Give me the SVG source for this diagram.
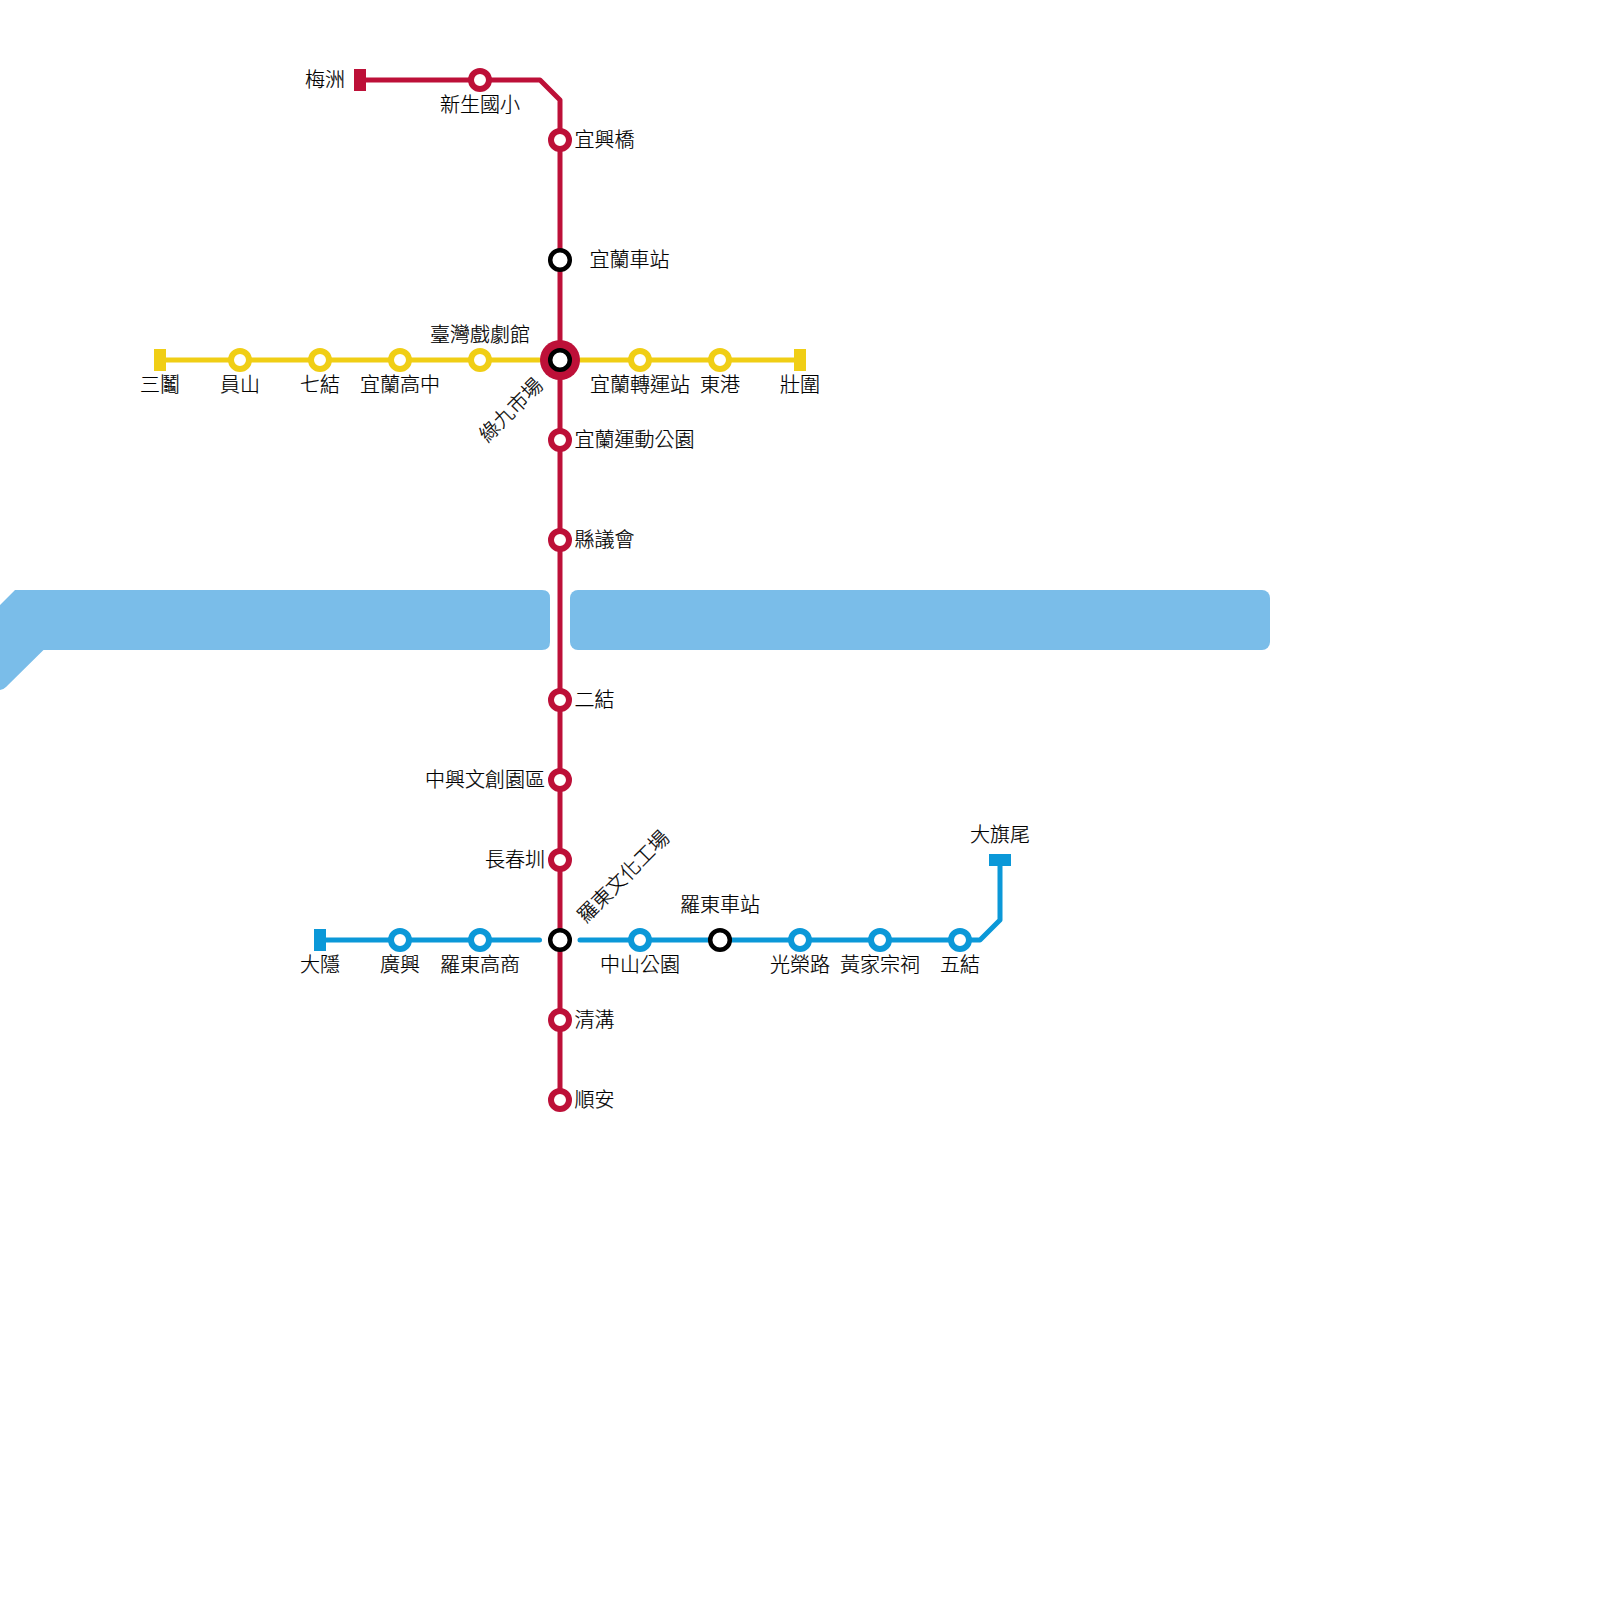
<svg xmlns="http://www.w3.org/2000/svg" width="1600" height="1600" viewBox="0 0 1600 1600">
<style>
text{font-family:"Noto Sans CJK TC","Noto Sans CJK JP",sans-serif;font-size:20px;font-weight:300;fill:#000;stroke:#000;stroke-width:.2;text-anchor:middle}
.s{text-anchor:start}.e{text-anchor:end}
.ln{fill:none;stroke-width:5;stroke-linejoin:round}
.r{stroke:#bd1038}.y{stroke:#f0ce15}.b{stroke:#0b98d8}
.st{fill:#fff;stroke-width:6}
.k{fill:#fff;stroke:#000;stroke-width:4.500}
.tr{fill:#bd1038}.ty{fill:#f0ce15}.tb{fill:#0b98d8}
.river{fill:#7abde9}
</style>
<defs>
<circle id="stn" r="9"/>
<circle id="xfer" r="9.800"/>
</defs>
<g id="river">
<path class="river" d="M0 605L15 590H542Q550 590 550 598V642Q550 650 542 650H43.500L6 687Q3 690 0 690Z"/>
<rect class="river" x="570" y="590" width="700" height="60" rx="8"/>
</g>
<g id="connectors">
<path class="ln r" d="M360 80H540L560 100V1100"/>
<path class="ln y" d="M160 360H539.500" stroke-linecap="round"/>
<path class="ln y" d="M580 360H800" stroke-linecap="round"/>
<path class="ln b" d="M320 940H539.500" stroke-linecap="round"/>
<path class="ln b" d="M580 940H980L1000 920V860" stroke-linecap="round"/>
</g>
<g id="n-meizhou"><rect class="tr" x="354" y="69" width="12" height="22"/><text class="e" x="345" y="86.500">梅洲</text></g>
<g id="n-xinsheng"><use href="#stn" class="st r" x="480" y="80"/><text x="480" y="112">新生國小</text></g>
<g id="n-yixingqiao"><use href="#stn" class="st r" x="560" y="140"/><text class="s" x="574.500" y="146.500">宜興橋</text></g>
<g id="n-yilan"><use href="#xfer" class="k" x="560" y="260"/><text class="s" x="589.500" y="266.500">宜蘭車站</text></g>
<g id="n-theatre"><circle class="tr" cx="560" cy="360" r="20"/><use href="#xfer" class="k" x="560" y="360"/><text x="480" y="341.500">臺灣戲劇館</text><text transform="translate(511 410) rotate(-45)" y="7">綠九市場</text></g>
<g id="n-sanguan"><rect class="ty" x="154" y="349" width="12" height="22"/><text x="160" y="392">三鬮</text></g>
<g id="n-yuanshan"><use href="#stn" class="st y" x="240" y="360"/><text x="240" y="392">員山</text></g>
<g id="n-qijie"><use href="#stn" class="st y" x="320" y="360"/><text x="320" y="392">七結</text></g>
<g id="n-yilanhs"><use href="#stn" class="st y" x="400" y="360"/><text x="400" y="392">宜蘭高中</text></g>
<g id="n-theatre-y"><use href="#stn" class="st y" x="480" y="360"/></g>
<g id="n-transfer"><use href="#stn" class="st y" x="640" y="360"/><text x="640" y="392">宜蘭轉運站</text></g>
<g id="n-donggang"><use href="#stn" class="st y" x="720" y="360"/><text x="720" y="392">東港</text></g>
<g id="n-zhuangwei"><rect class="ty" x="794" y="349" width="12" height="22"/><text x="800" y="392">壯圍</text></g>
<g id="n-sportspark"><use href="#stn" class="st r" x="560" y="440"/><text class="s" x="574.500" y="446.500">宜蘭運動公園</text></g>
<g id="n-council"><use href="#stn" class="st r" x="560" y="540"/><text class="s" x="574.500" y="546.500">縣議會</text></g>
<g id="n-erjie"><use href="#stn" class="st r" x="560" y="700"/><text class="s" x="574.500" y="706.500">二結</text></g>
<g id="n-zhongxing"><use href="#stn" class="st r" x="560" y="780"/><text class="e" x="545" y="786.500">中興文創園區</text></g>
<g id="n-changchun"><use href="#stn" class="st r" x="560" y="860"/><text class="e" x="545" y="866.500">長春圳</text></g>
<g id="n-luodong-cf"><use href="#xfer" class="k" x="560" y="940"/><text transform="translate(623.300 876.700) rotate(-45)" y="7">羅東文化工場</text></g>
<g id="n-qinggou"><use href="#stn" class="st r" x="560" y="1020"/><text class="s" x="574.500" y="1026.500">清溝</text></g>
<g id="n-shunan"><use href="#stn" class="st r" x="560" y="1100"/><text class="s" x="574.500" y="1106.500">順安</text></g>
<g id="n-dayin"><rect class="tb" x="314" y="929" width="12" height="22"/><text x="320" y="972">大隱</text></g>
<g id="n-guangxing"><use href="#stn" class="st b" x="400" y="940"/><text x="400" y="972">廣興</text></g>
<g id="n-ldhs"><use href="#stn" class="st b" x="480" y="940"/><text x="480" y="972">羅東高商</text></g>
<g id="n-zspark"><use href="#stn" class="st b" x="640" y="940"/><text x="640" y="972">中山公園</text></g>
<g id="n-luodong"><use href="#xfer" class="k" x="720" y="940"/><text x="720" y="911.500">羅東車站</text></g>
<g id="n-guangrong"><use href="#stn" class="st b" x="800" y="940"/><text x="800" y="972">光榮路</text></g>
<g id="n-huang"><use href="#stn" class="st b" x="880" y="940"/><text x="880" y="972">黃家宗祠</text></g>
<g id="n-wujie"><use href="#stn" class="st b" x="960" y="940"/><text x="960" y="972">五結</text></g>
<g id="n-daqiwei"><rect class="tb" x="989" y="854" width="22" height="12"/><text x="1000" y="842">大旗尾</text></g>
</svg>
